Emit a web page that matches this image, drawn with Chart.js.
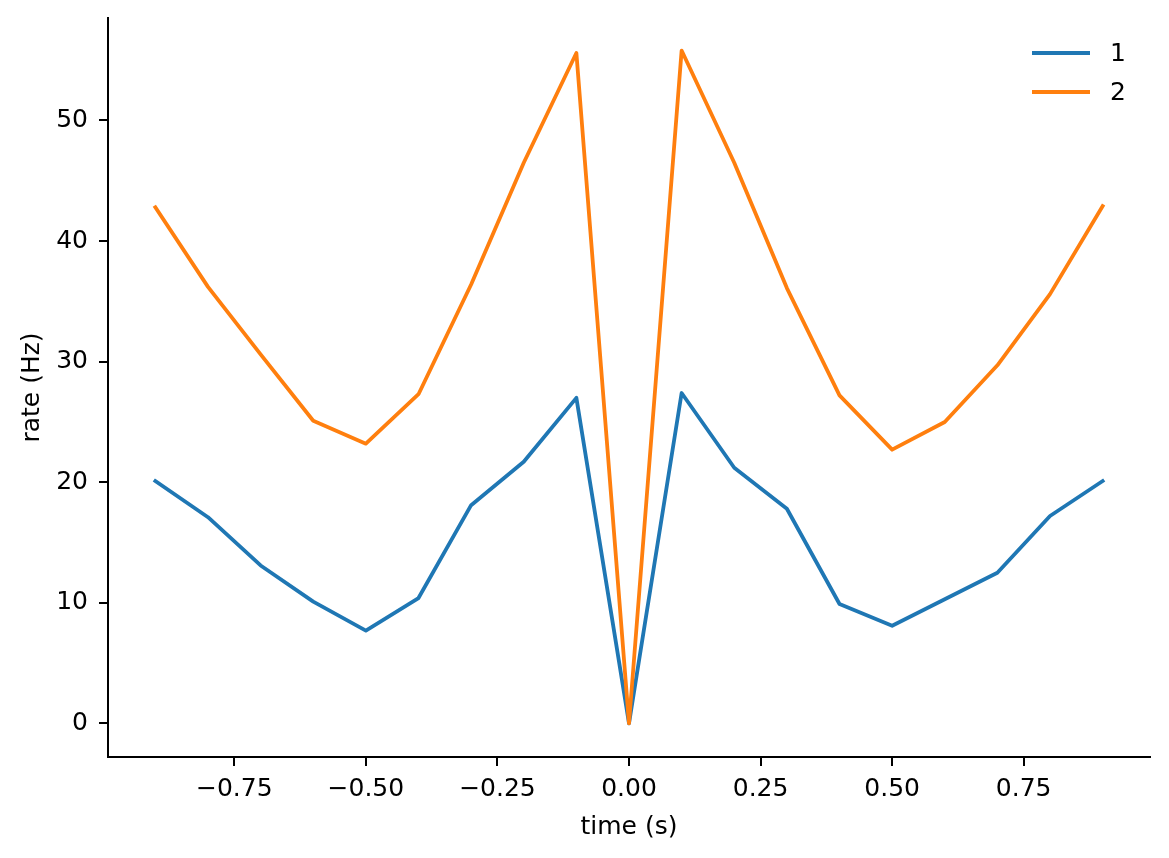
<!DOCTYPE html>
<html>
<head>
<meta charset="utf-8">
<script src="https://cdn.jsdelivr.net/npm/chart.js@4.4.0/dist/chart.umd.min.js"></script>
<style>
  html, body { margin: 0; padding: 0; background: #fff; }
  #wrap { width: 1169px; height: 858px; }
</style>
</head>
<body>
<div id="wrap"><canvas id="rateChart" width="1169" height="858"></canvas></div>
<script>
// lag times (s)
const times = [-0.9, -0.8, -0.7, -0.6, -0.5, -0.4, -0.3, -0.2, -0.1, 0, 0.1, 0.2, 0.3, 0.4, 0.5, 0.6, 0.7, 0.8, 0.9];

// rate (Hz) for each series
const rate1 = [20.1, 17.1, 13.1, 10.1, 7.7, 10.4, 18.1, 21.7, 27.0, 0, 27.4, 21.2, 17.8, 9.9, 8.1, 10.3, 12.5, 17.2, 20.1];
const rate2 = [42.8, 36.2, 30.6, 25.1, 23.2, 27.3, 36.4, 46.5, 55.6, 0, 55.8, 46.5, 36.1, 27.2, 22.7, 25.0, 29.7, 35.6, 42.9];

const xTicks = [-0.75, -0.5, -0.25, 0, 0.25, 0.5, 0.75];
const yTicks = [0, 10, 20, 30, 40, 50];

const font = { family: 'DejaVu Sans', size: 25 };

function toPoints(vals) {
  return times.map((t, i) => ({ x: t, y: vals[i] }));
}

// legend drawn inside the plot, upper right, like matplotlib
const innerLegend = {
  id: 'innerLegend',
  afterDraw(chart) {
    const ctx = chart.ctx;
    ctx.save();
    ctx.font = '25px "DejaVu Sans"';
    ctx.textBaseline = 'middle';
    ctx.fillStyle = '#000';
    chart.data.datasets.forEach((ds, i) => {
      const y = 53 + i * 39;
      ctx.strokeStyle = ds.borderColor;
      ctx.lineWidth = ds.borderWidth;
      ctx.beginPath();
      ctx.moveTo(1032, y);
      ctx.lineTo(1090, y);
      ctx.stroke();
      ctx.fillText(ds.label, 1110, y + 1);
    });
    ctx.restore();
  }
};

new Chart(document.getElementById('rateChart').getContext('2d'), {
  type: 'line',
  data: {
    datasets: [
      { label: '1', data: toPoints(rate1), borderColor: '#1f77b4', borderWidth: 3.8, pointRadius: 0, tension: 0,
        borderJoinStyle: 'round', borderCapStyle: 'square', order: 1 },
      { label: '2', data: toPoints(rate2), borderColor: '#ff7f0e', borderWidth: 3.8, pointRadius: 0, tension: 0,
        borderJoinStyle: 'round', borderCapStyle: 'square', order: 0 }
    ]
  },
  options: {
    responsive: false,
    animation: false,
    devicePixelRatio: 1,
    layout: { padding: { left: 0, right: 19, top: 18, bottom: 0 } },
    plugins: { legend: { display: false }, tooltip: { enabled: false } },
    scales: {
      x: {
        type: 'linear',
        min: -0.99,
        max: 0.99,
        afterBuildTicks: s => { s.ticks = xTicks.map(v => ({ value: v })); },
        afterFit: s => { s.height = 101; },
        grid: { drawOnChartArea: false, drawTicks: true, tickLength: 9, color: '#000', lineWidth: 2 },
        border: { display: true, color: '#000', width: 2 },
        ticks: {
          color: '#000', font: font, padding: 8, maxRotation: 0,
          callback: v => (v < 0 ? '\u2212' : '') + Math.abs(v).toFixed(2)
        },
        title: { display: true, text: 'time (s)', color: '#000', font: font, padding: { top: 0, bottom: 16 } }
      },
      y: {
        min: -2.785,
        max: 58.5,
        afterBuildTicks: s => { s.ticks = yTicks.map(v => ({ value: v })); },
        afterFit: s => { s.width = 108; s.paddingTop = 0; s.paddingBottom = 0; },
        grid: { drawOnChartArea: false, drawTicks: true, tickLength: 9, color: '#000', lineWidth: 2 },
        border: { display: true, color: '#000', width: 2 },
        ticks: { color: '#000', font: font, padding: 11, callback: v => String(v) },
        title: { display: true, text: 'rate (Hz)', color: '#000', font: font, padding: { top: 17, bottom: 0 } }
      }
    }
  },
  plugins: [innerLegend]
});
</script>
</body>
</html>
